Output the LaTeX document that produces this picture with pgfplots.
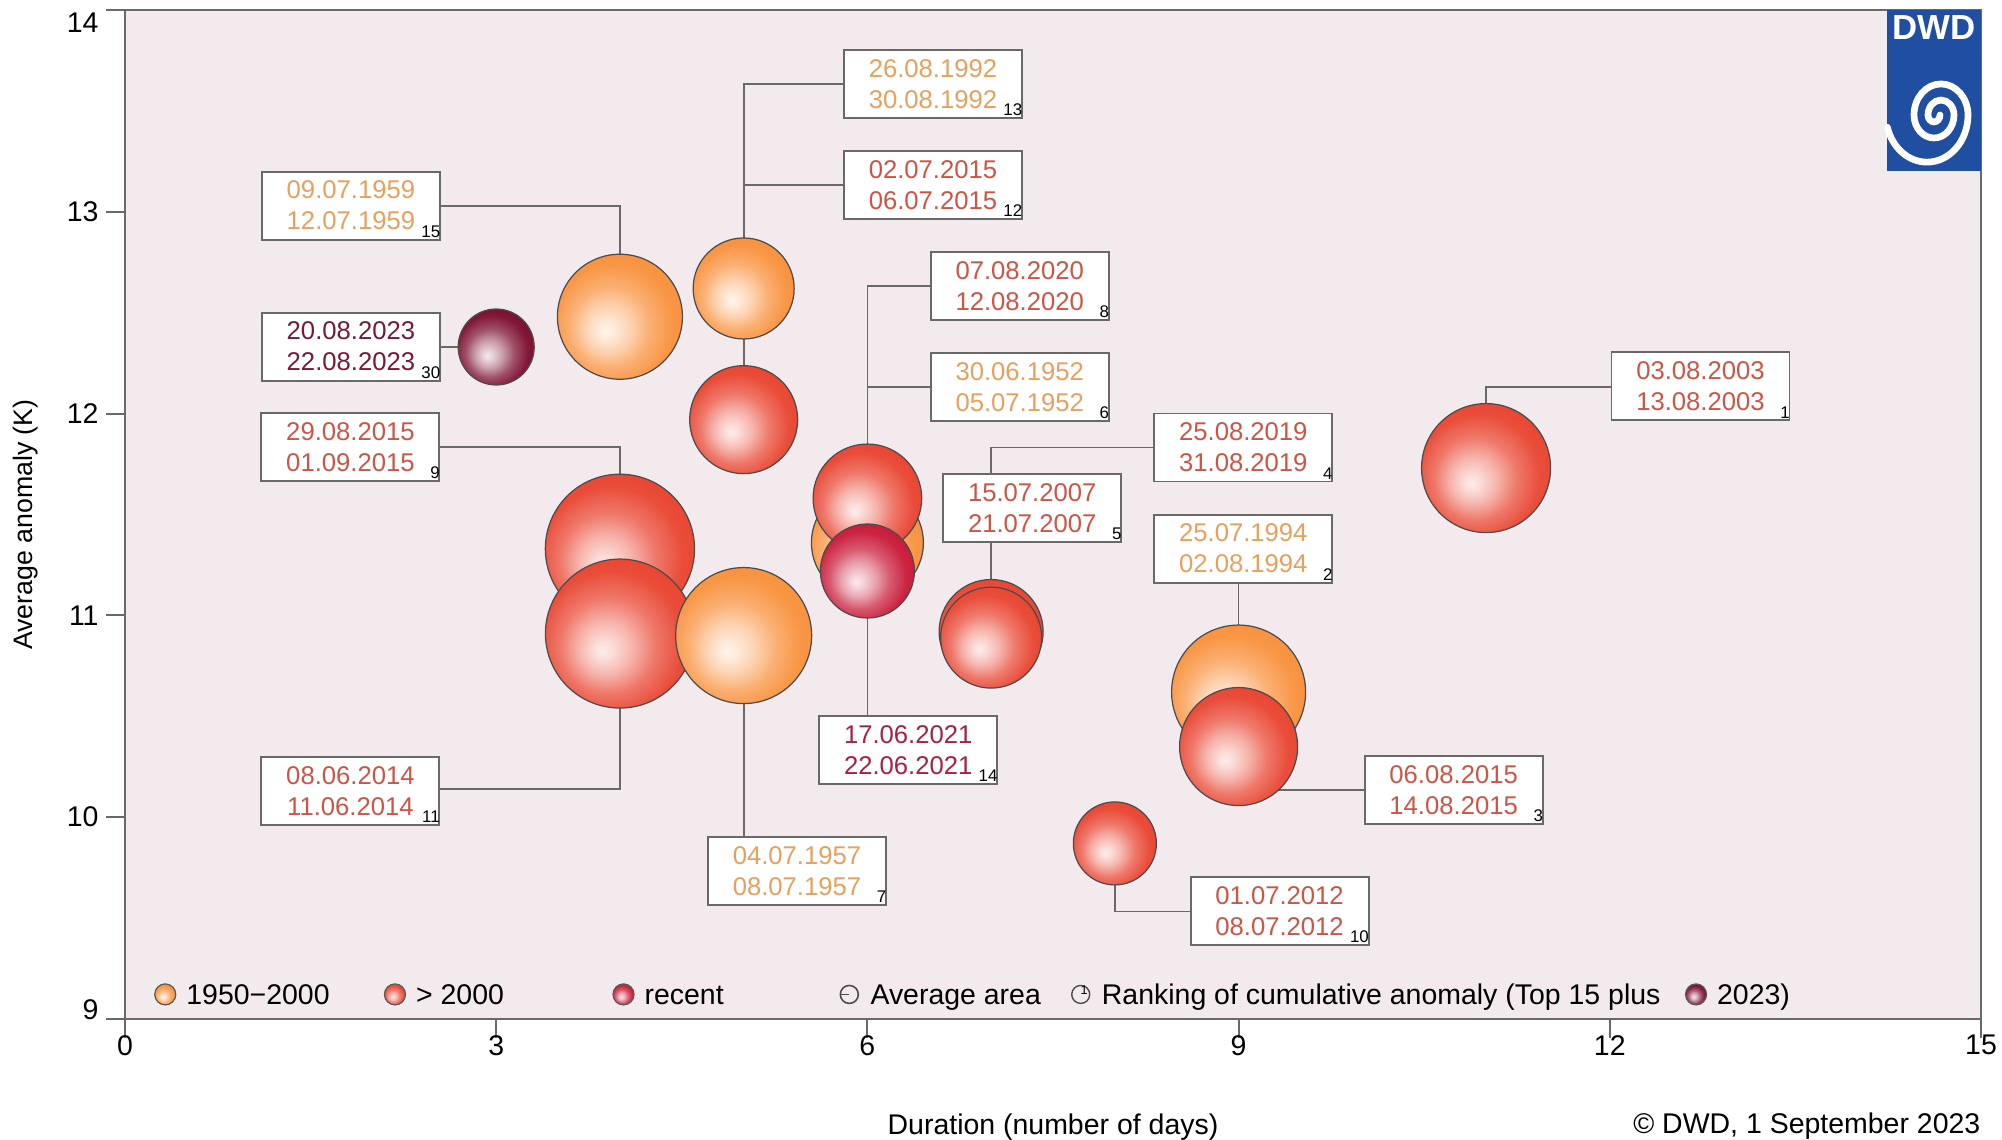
\documentclass[border=0pt]{standalone}
\usepackage{pgfplots}
\pgfplotsset{compat=1.18}
\usepackage{fontspec}
\setmainfont{Liberation Sans}

\definecolor{bgcol}{RGB}{243,234,237}
\definecolor{orangeB}{RGB}{248,145,60}
\definecolor{redB}{RGB}{232,68,48}
\definecolor{recentB}{RGB}{200,25,55}
\definecolor{maroonB}{RGB}{122,12,45}
\definecolor{orangeT}{RGB}{232,160,92}
\definecolor{redT}{RGB}{206,84,70}
\definecolor{recentT}{RGB}{166,34,62}
\definecolor{maroonT}{RGB}{118,26,58}
\definecolor{dwdblue}{RGB}{32,78,160}
\definecolor{linegray}{RGB}{105,105,105}
\colorlet{bubcol}{redB}

\pgfdeclareradialshading[bubcol]{bubble}{\pgfqpoint{-6bp}{-6bp}}{%
  color(0bp)=(bubcol!10!white);
  color(3bp)=(bubcol!18!white);
  color(9bp)=(bubcol!40!white);
  color(16bp)=(bubcol!72!white);
  color(24bp)=(bubcol!95!white);
  color(30bp)=(bubcol);
  color(35bp)=(bubcol!90!black);
  color(50bp)=(bubcol!90!black)}

\pgfdeclareplotmark{bub}{%
  \pgfpathcircle{\pgfpointorigin}{\pgfplotmarksize}%
  \pgfshadepath{bubble}{0}%
  \pgfpathcircle{\pgfpointorigin}{\pgfplotmarksize}%
  \pgfusepathqstroke}

\pgfplotsset{ballimage/.style={legend image code/.code={%
  \colorlet{bubcol}{#1}%
  \pgfsetlinewidth{0.35pt}\pgfsetstrokecolor{black!65}%
  \pgfpathcircle{\pgfpoint{0.105cm}{0.1cm}}{0.105cm}%
  \pgfshadepath{bubble}{0}%
  \pgfpathcircle{\pgfpoint{0.105cm}{0.1cm}}{0.105cm}%
  \pgfusepath{stroke}}}}

\begin{document}
\begin{tikzpicture}[
  conn/.style={draw=linegray, line width=0.5pt},
  datebox/.style={draw=linegray, line width=0.55pt, fill=white, minimum width=1.78cm, minimum height=0.68cm, inner sep=0pt, align=center, font=\fontsize{7.3}{8.8}\selectfont},
  rank/.style={anchor=south east, inner sep=0pt, text=black, font=\fontsize{4.8}{5}\selectfont, yshift=0.7pt},
  bubnum/.style={font=\fontsize{5.2}{6}\selectfont, text=black!85, inner sep=0pt},
  bc/.code={\colorlet{bubcol}{#1}},
]
\useasboundingbox (-1.25,-1.21) rectangle (18.77,10.19);
\begin{axis}[
  at={(0,0)}, anchor=south west,
  scale only axis, width=18.56cm, height=10.09cm,
  xmin=0, xmax=15, ymin=9, ymax=14,
  clip=false,
  xtick={0,3,6,9,12,15},
  ytick={9,10,11,12,13,14},
  yticklabels={\raisebox{0.9mm}[\height][\depth]{9},10,11,12,13,\raisebox{-1.3mm}[\height][\depth]{14}},
  tick align=outside, tick pos=left,
  major tick length=0.19cm,
  every tick/.style={draw=linegray, line width=0.55pt},
  axis line style={draw=linegray, line width=0.55pt},
  axis background/.style={fill=bgcol},
  tick label style={font=\fontsize{8.1}{9.7}\selectfont, text=black},
  xticklabel style={yshift=0.15cm},
  yticklabel style={xshift=0.05cm},
  /pgf/number format/assume math mode=true,
  xlabel={Duration (number of days)},
  ylabel={Average anomaly (K)},
  xlabel style={font=\fontsize{8.1}{9.7}\selectfont, at={(axis description cs:0.5,-0.114)}, anchor=base},
  ylabel style={font=\fontsize{7.6}{9}\selectfont, at={(axis description cs:-0.0536,0.49)}, anchor=center},
  legend columns=-1,
  legend style={at={(axis description cs:0.0157,0.0223)}, anchor=west, draw=none, fill=none,
    inner sep=0pt, outer sep=0pt, font=\fontsize{8.1}{9.7}\selectfont,
    nodes={inner sep=0pt, anchor=base west},
    /tikz/every odd column/.style={column sep=0.1cm},
    /tikz/every even column/.style={column sep=0pt}},
]
% connectors
\draw[conn] (1.83,13.03) -- (4,13.03) -- (4,12.48);
\draw[conn] (1.83,12.33) -- (3,12.33);
\draw[conn] (1.83,11.836) -- (4,11.836) -- (4,11.33);
\draw[conn] (1.83,10.138) -- (4,10.138) -- (4,10.91);
\draw[conn] (6.53,13.632) -- (5,13.632) -- (5,11.97);
\draw[conn] (6.53,13.133) -- (5,13.133);
\draw[conn] (7.23,12.631) -- (6,12.631) -- (6,11.36);
\draw[conn] (7.23,12.132) -- (6,12.132);
\draw[conn] (6,11.22) -- (6,10.334);
\draw[conn] (5,10.90) -- (5,9.734);
\draw[conn] (9.04,11.832) -- (7,11.832) -- (7,10.92);
\draw[conn] (9,11.331) -- (9,10.62);
\draw[conn] (9,10.135) -- (10.74,10.135);
\draw[conn] (8,9.87) -- (8,9.533) -- (9.33,9.533);
\draw[conn] (11,11.73) -- (11,12.133) -- (12.73,12.133);

% bubbles (largest first)
\addplot[forget plot, only marks, mark=bub, mark size=0.746cm, mark options={bc=redB, draw=black!70, line width=0.35pt}] coordinates {(4,11.33)};
\addplot[forget plot, only marks, mark=bub, mark size=0.745cm, mark options={bc=redB, draw=black!70, line width=0.35pt}] coordinates {(4,10.91)};
\addplot[forget plot, only marks, mark=bub, mark size=0.68cm, mark options={bc=orangeB, draw=black!70, line width=0.35pt}] coordinates {(5,10.90)};
\addplot[forget plot, only marks, mark=bub, mark size=0.67cm, mark options={bc=orangeB, draw=black!70, line width=0.35pt}] coordinates {(9,10.62)};
\addplot[forget plot, only marks, mark=bub, mark size=0.645cm, mark options={bc=redB, draw=black!70, line width=0.35pt}] coordinates {(11,11.73)};
\addplot[forget plot, only marks, mark=bub, mark size=0.625cm, mark options={bc=orangeB, draw=black!70, line width=0.35pt}] coordinates {(4,12.48)};
\addplot[forget plot, only marks, mark=bub, mark size=0.59cm, mark options={bc=redB, draw=black!70, line width=0.35pt}] coordinates {(9,10.35)};
\addplot[forget plot, only marks, mark=bub, mark size=0.56cm, mark options={bc=orangeB, draw=black!70, line width=0.35pt}] coordinates {(6,11.36)};
\addplot[forget plot, only marks, mark=bub, mark size=0.543cm, mark options={bc=redB, draw=black!70, line width=0.35pt}] coordinates {(6,11.58)};
\addplot[forget plot, only marks, mark=bub, mark size=0.54cm, mark options={bc=redB, draw=black!70, line width=0.35pt}] coordinates {(5,11.97)};
\addplot[forget plot, only marks, mark=bub, mark size=0.52cm, mark options={bc=redB, draw=black!70, line width=0.35pt}] coordinates {(7,10.92)};
\addplot[forget plot, only marks, mark=bub, mark size=0.505cm, mark options={bc=orangeB, draw=black!70, line width=0.35pt}] coordinates {(5,12.62)};
\addplot[forget plot, only marks, mark=bub, mark size=0.505cm, mark options={bc=redB, draw=black!70, line width=0.35pt}] coordinates {(7,10.89)};
\addplot[forget plot, only marks, mark=bub, mark size=0.47cm, mark options={bc=recentB, draw=black!70, line width=0.35pt}] coordinates {(6,11.22)};
\addplot[forget plot, only marks, mark=bub, mark size=0.415cm, mark options={bc=redB, draw=black!70, line width=0.35pt}] coordinates {(8,9.87)};
\addplot[forget plot, only marks, mark=bub, mark size=0.38cm, mark options={bc=maroonB, draw=black!70, line width=0.35pt}] coordinates {(3,12.33)};

% bubble numbers
\node[bubnum] at (4,11.33) {9};
\node[bubnum] at (4,10.91) {11};
\node[bubnum] at (5,10.90) {7};
\node[bubnum] at (11,11.73) {1};
\node[bubnum] at (4,12.48) {15};
\node[bubnum] at (9,10.35) {3};
\node[bubnum] at (6,11.58) {8};
\node[bubnum] at (5,11.97) {12};
\node[bubnum] at (5,12.62) {13};
\node[bubnum] at (7,10.89) {5};
\node[bubnum] at (6,11.22) {14};
\node[bubnum] at (8,9.87) {10};
\node[bubnum] at (3,12.33) {30};

% date boxes
\node[datebox, text=orangeT] (b15) at (1.826,13.031) {09.07.1959\\12.07.1959}; \node[rank] at (b15.south east) {15};
\node[datebox, text=maroonT] (b30) at (1.826,12.332) {20.08.2023\\22.08.2023}; \node[rank] at (b30.south east) {30};
\node[datebox, text=redT] (b9) at (1.822,11.835) {29.08.2015\\01.09.2015}; \node[rank] at (b9.south east) {9};
\node[datebox, text=redT] (b11) at (1.822,10.130) {08.06.2014\\11.06.2014}; \node[rank] at (b11.south east) {11};
\node[datebox, text=orangeT] (b13) at (6.530,13.632) {26.08.1992\\30.08.1992}; \node[rank] at (b13.south east) {13};
\node[datebox, text=redT] (b12) at (6.530,13.133) {02.07.2015\\06.07.2015}; \node[rank] at (b12.south east) {12};
\node[datebox, text=redT] (b8) at (7.231,12.631) {07.08.2020\\12.08.2020}; \node[rank] at (b8.south east) {8};
\node[datebox, text=orangeT] (b6) at (7.231,12.132) {30.06.1952\\05.07.1952}; \node[rank] at (b6.south east) {6};
\node[datebox, text=redT] (b4) at (9.038,11.832) {25.08.2019\\31.08.2019}; \node[rank] at (b4.south east) {4};
\node[datebox, text=redT] (b5) at (7.332,11.531) {15.07.2007\\21.07.2007}; \node[rank] at (b5.south east) {5};
\node[datebox, text=orangeT] (b2) at (9.038,11.331) {25.07.1994\\02.08.1994}; \node[rank] at (b2.south east) {2};
\node[datebox, text=redT] (b3) at (10.738,10.136) {06.08.2015\\14.08.2015}; \node[rank] at (b3.south east) {3};
\node[datebox, text=redT] (b10) at (9.331,9.535) {01.07.2012\\08.07.2012}; \node[rank] at (b10.south east) {10};
\node[datebox, text=redT] (b1) at (12.733,12.135) {03.08.2003\\13.08.2003}; \node[rank] at (b1.south east) {1};
\node[datebox, text=orangeT] (b7) at (5.431,9.734) {04.07.1957\\08.07.1957}; \node[rank] at (b7.south east) {7};
\node[datebox, text=recentT] (b14) at (6.330,10.334) {17.06.2021\\22.06.2021}; \node[rank] at (b14.south east) {14};

% legend
\addlegendimage{ballimage=orangeB}
\addlegendentry{\makebox[1.975cm][l]{1950−2000}}
\addlegendimage{ballimage=redB}
\addlegendentry{\makebox[1.963cm][l]{> 2000}}
\addlegendimage{ballimage=recentB}
\addlegendentry{\makebox[1.935cm][l]{recent}}
\addlegendimage{legend image code/.code={\draw[black!70, line width=0.45pt] (0.105cm,0.1cm) circle (0.09cm); \draw[black!70, line width=0.45pt] (0.015cm,0.1cm) -- (0.105cm,0.1cm); \path (0,0) (0.21cm,0.2cm);}}
\addlegendentry{\makebox[1.99cm][l]{Average area}}
\addlegendimage{legend image code/.code={\draw[black!70, line width=0.4pt] (0.105cm,0.1cm) circle (0.09cm); \node[inner sep=0pt, font=\fontsize{3.6}{3.6}\selectfont] at (0.105cm,0.1cm) {1}; \path (0,0) (0.21cm,0.2cm);}}
\addlegendentry{\makebox[5.83cm][l]{Ranking of cumulative anomaly (Top 15 plus}}
\addlegendimage{ballimage=maroonB}
\addlegendentry{2023)}
\end{axis}

\node[anchor=base east, inner sep=0pt, font=\fontsize{8.1}{9.7}\selectfont] at ([yshift=-1.15cm]current axis.south east) {© DWD, 1 September 2023};

% DWD logo
\fill[dwdblue] (17.62,8.48) rectangle (18.56,10.09);
\node[text=white, font=\bfseries\fontsize{9.9}{10}\selectfont, inner sep=0pt] at (18.09,9.91) {DWD};
\begin{scope}[shift={(18.09,9.04)}, yscale=1.15]
\draw[white, line width=1.9pt, line cap=round] (0.06,0)
  arc[start angle=0, end angle=-180, radius=0.06]
  arc[start angle=-180, end angle=-360, radius=0.13]
  arc[start angle=0, end angle=-180, radius=0.2]
  arc[start angle=-180, end angle=-360, radius=0.27]
  arc[start angle=0, end angle=-165, radius=0.41];
\end{scope}
\end{tikzpicture}
\end{document}
